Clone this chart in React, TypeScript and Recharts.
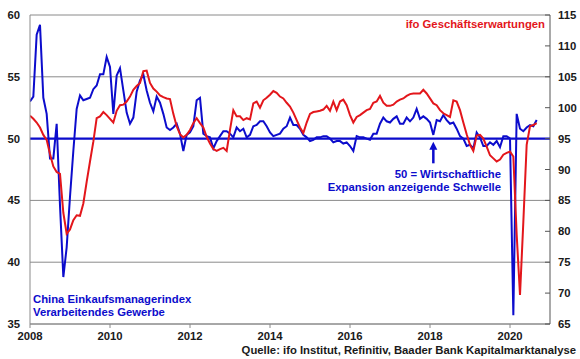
import {
  LineChart,
  Line,
  XAxis,
  YAxis,
  CartesianGrid,
  ReferenceLine,
  ReferenceDot,
} from "recharts";

const START_YEAR = 2008;

// China NBS manufacturing PMI, monthly from Jan 2008 (left axis)
const chinaPmi = [
  53.0, 53.4, 58.4, 59.2, 53.3, 52.0, 48.4, 48.4, 51.2, 44.6, 38.8, 41.2,
  45.3, 49.0, 52.4, 53.5, 53.1, 53.2, 53.3, 54.0, 54.3, 55.2, 55.2, 56.6,
  55.8, 52.0, 55.1, 55.7, 53.9, 52.1, 51.2, 51.7, 53.8, 54.7, 55.2, 53.9,
  52.9, 52.2, 53.4, 52.9, 52.0, 50.9, 50.7, 50.9, 51.2, 50.4, 49.0, 50.3,
  50.5, 51.0, 53.1, 53.3, 50.4, 50.2, 50.1, 49.2, 49.8, 50.2, 50.6, 50.6,
  50.4, 50.1, 50.9, 50.6, 50.8, 50.1, 50.3, 51.0, 51.1, 51.4, 51.4, 51.0,
  50.5, 50.2, 50.3, 50.4, 50.8, 51.0, 51.7, 51.1, 51.1, 50.8, 50.3, 50.1,
  49.8, 49.9, 50.1, 50.1, 50.2, 50.2, 50.0, 49.7, 49.8, 49.8, 49.6, 49.7,
  49.4, 49.0, 50.2, 50.1, 50.1, 50.0, 49.9, 50.4, 50.4, 51.2, 51.7, 51.4,
  51.3, 51.6, 51.8, 51.2, 51.2, 51.7, 51.4, 51.7, 52.4, 51.6, 51.8, 51.6,
  51.3, 50.3, 51.5, 51.4, 51.9, 51.5, 51.2, 51.3, 50.8, 50.2, 50.0, 49.4,
  49.5, 49.2, 50.5, 50.1, 49.4, 49.4, 49.7, 49.5, 49.8, 49.3, 50.2, 50.2,
  50.0, 35.7, 52.0, 50.8, 50.6, 50.9, 51.1, 51.0, 51.5,
];

// ifo business expectations, monthly from Jan 2008 (right axis)
const ifoExpectations = [
  98.7, 98.2, 97.6, 96.8, 95.6, 94.8, 92.5, 90.5, 89.6, 89.3, 83.0, 79.6,
  80.3, 81.8, 82.6, 82.5, 84.5, 88.0, 91.3, 94.5, 98.3, 98.6, 99.3, 98.8,
  98.2, 97.6, 99.5, 100.4, 100.5, 101.0, 101.8, 102.9, 103.5, 104.0, 105.9, 106.0,
  104.0, 103.1, 102.6, 102.0, 101.7, 101.5, 101.4, 99.0, 97.0, 95.7, 95.2, 95.6,
  96.4, 97.5, 98.3, 97.5, 96.8, 95.3, 94.2, 93.3, 93.0, 93.3, 93.5, 93.0,
  96.4, 99.6, 98.6, 98.6, 98.0, 98.3, 98.1, 100.7, 101.0, 100.0, 101.2, 101.6,
  102.1, 102.7, 102.4, 101.8, 101.5, 100.8, 100.2, 99.2, 98.0, 96.8, 95.9, 97.6,
  99.0, 99.3, 99.4, 99.5, 99.7, 100.3, 99.5, 101.0, 99.6, 101.0, 101.3, 100.4,
  98.8, 97.6, 98.5, 98.8, 99.2, 99.6, 99.8, 100.8, 101.0, 101.9, 100.8, 100.3,
  100.3, 100.5, 101.0, 101.3, 101.5, 101.9, 102.2, 102.3, 102.3, 102.3, 102.9, 102.3,
  101.5, 100.7, 100.4, 99.6, 99.1, 98.8, 98.5, 101.2, 101.0, 99.6, 97.6, 95.7,
  94.0, 93.0, 95.5, 95.6, 95.0, 93.7, 92.3, 91.8, 91.3, 91.6, 92.4, 92.7,
  92.9, 92.1, 79.5, 69.7, 81.5, 94.0, 97.0, 97.2, 97.5,
];

const yearTicks = [2008, 2010, 2012, 2014, 2016, 2018, 2020];
const pmiTicks = [35, 40, 45, 50, 55, 60];
const ifoTicks = [65, 70, 75, 80, 85, 90, 95, 100, 105, 110, 115];

const THRESHOLD = 50;
const ARROW_AT = 2018 + 1 / 12;
const ARROW_FROM = 48.0;
const ARROW_TIP = 49.75;

const data = chinaPmi.map((pmi, i) => ({
  t: START_YEAR + i / 12,
  pmi,
  ifo: ifoExpectations[i],
}));

const BLUE = "#0c0ccc";
const RED = "#e3161b";
const FONT = '"Liberation Sans", Arial, sans-serif';

const tickStyle = { fill: "#1a1a1a", fontSize: 11.3, fontWeight: 700, fontFamily: FONT };

const textBase: React.CSSProperties = {
  position: "absolute",
  fontFamily: FONT,
  fontWeight: 700,
  fontSize: 11.3,
  lineHeight: "13px",
  whiteSpace: "nowrap",
};

function ArrowHead(props: any) {
  const { cx, cy } = props;
  return <path d={`M${cx},${cy} L${cx - 4},${cy + 8} L${cx + 4},${cy + 8} Z`} fill={BLUE} />;
}

export default function App() {
  return (
    <div style={{ position: "absolute", left: 0, top: 0, width: 580, height: 359, background: "#fff" }}>
      <LineChart width={580} height={359} data={data} margin={{ top: 15, right: 0, bottom: 0, left: 0 }}>
        <CartesianGrid yAxisId="left" vertical={false} stroke="#8a8a8a" strokeWidth={1} />
        <XAxis
          dataKey="t"
          type="number"
          domain={[2008, 2021]}
          ticks={yearTicks}
          allowDataOverflow
          height={35}
          tick={tickStyle}
          tickSize={4}
          tickMargin={4}
          axisLine={{ stroke: "#8a8a8a" }}
          tickLine={{ stroke: "#8a8a8a" }}
        />
        <YAxis
          yAxisId="left"
          domain={[35, 60]}
          ticks={pmiTicks}
          width={30}
          tick={tickStyle}
          tickLine={false}
          tickSize={0}
          tickMargin={10}
          axisLine={{ stroke: "#8a8a8a" }}
        />
        <YAxis
          yAxisId="right"
          orientation="right"
          domain={[65, 115]}
          ticks={ifoTicks}
          width={30}
          tick={tickStyle}
          tickSize={-5}
          tickMargin={13}
          axisLine={{ stroke: "#555" }}
          tickLine={{ stroke: "#555" }}
        />
        <ReferenceLine yAxisId="left" y={THRESHOLD} stroke={BLUE} strokeWidth={2.2} />
        <Line
          yAxisId="left"
          dataKey="pmi"
          stroke={BLUE}
          strokeWidth={2}
          dot={false}
          isAnimationActive={false}
        />
        <Line
          yAxisId="right"
          dataKey="ifo"
          stroke={RED}
          strokeWidth={2}
          dot={false}
          isAnimationActive={false}
        />
        <ReferenceLine
          yAxisId="left"
          segment={[
            { x: ARROW_AT, y: ARROW_FROM },
            { x: ARROW_AT, y: ARROW_TIP - 0.4 },
          ]}
          stroke={BLUE}
          strokeWidth={2.5}
        />
        <ReferenceDot
          yAxisId="left"
          x={ARROW_AT}
          y={ARROW_TIP}
          r={4}
          shape={ArrowHead}
          ifOverflow="visible"
        />
      </LineChart>

      <div style={{ ...textBase, color: RED, right: 35, top: 18 }}>ifo Geschäftserwartungen</div>
      <div style={{ ...textBase, color: BLUE, left: 33, top: 293 }}>
        China Einkaufsmanagerindex
        <br />
        Verarbeitendes Gewerbe
      </div>
      <div style={{ ...textBase, color: BLUE, right: 79, top: 168, textAlign: "right" }}>
        50 = Wirtschaftliche
        <br />
        Expansion anzeigende Schwelle
      </div>
      <div style={{ ...textBase, color: "#1a1a1a", right: 4, top: 344 }}>
        Quelle: ifo Institut, Refinitiv, Baader Bank Kapitalmarktanalyse
      </div>
    </div>
  );
}
